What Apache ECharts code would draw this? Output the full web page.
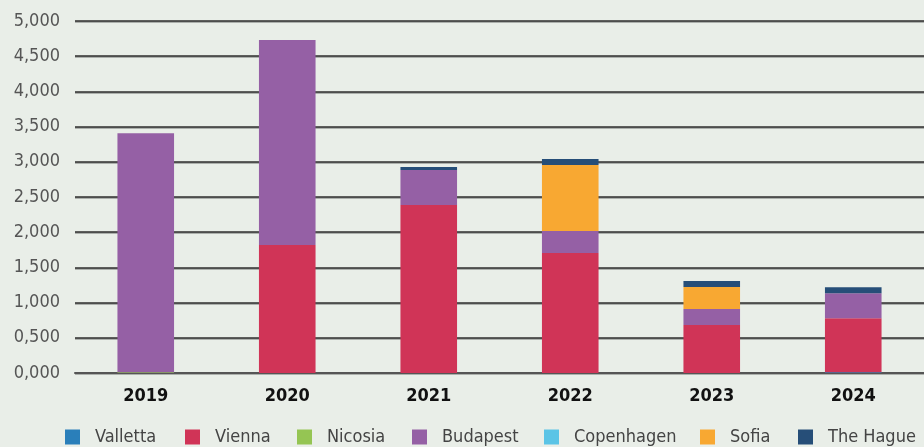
<!DOCTYPE html>
<html>
<head>
<meta charset="utf-8">
<script src="https://cdn.jsdelivr.net/npm/echarts@6/dist/echarts.min.js"></script>
<style>
  html, body { margin: 0; padding: 0; background: #e9eee8; }
  #chart { width: 924px; height: 447px; }
</style>
</head>
<body>
<div id="chart"></div>
<script>
// data
var years = ['2019', '2020', '2021', '2022', '2023', '2024'];
var cities = ['Valletta', 'Vienna', 'Nicosia', 'Budapest', 'Copenhagen', 'Sofia', 'The Hague'];
var valletta   = [0, 0, 0, 0, 0, 10];
var vienna     = [0, 1818, 2386, 1705, 682, 767];
var nicosia    = [10, 0, 0, 0, 0, 0];
var budapest   = [3395, 2912, 498, 312, 227, 355];
var copenhagen = [0, 0, 0, 0, 0, 0];
var sofia      = [0, 0, 0, 938, 313, 0];
var theHague   = [0, 0, 42, 85, 85, 85];

var colors = ['#2a7fba', '#d03457', '#95c553', '#9560a5', '#5bc4e6', '#f8a832', '#264e78'];
// x of each legend square
var legendLeft = [65, 185, 297, 412, 544, 700, 798];

var font = "'Liberation Sans Narrow', 'DejaVu Sans Condensed', 'Roboto', sans-serif";

function bar (i, data) {
  return {
    name: cities[i],
    type: 'bar',
    stack: 'total',
    barWidth: '40%',
    data: data,
    itemStyle: { color: colors[i] }
  };
}

var legends = cities.map(function (c, i) {
  return {
    data: [c],
    left: legendLeft[i],
    top: 428,
    padding: 0,
    itemWidth: 15,
    itemHeight: 15,
    icon: 'rect',
    textStyle: { fontFamily: font, fontSize: 18, color: '#444', padding: [0, 0, 0, 10] }
  };
});

var chart = echarts.init(document.getElementById('chart'));
chart.setOption({
  backgroundColor: '#e9eee8',
  animation: false,
  grid: { left: 75, right: 0, top: 21, bottom: 74 },
  legend: legends,
  xAxis: {
    type: 'category',
    data: years,
    axisTick: { show: false },
    axisLine: { lineStyle: { color: '#555', width: 2 } },
    axisLabel: { fontFamily: font, fontSize: 18, fontWeight: 'bold', color: '#111', margin: 14 }
  },
  yAxis: {
    type: 'value',
    min: 0,
    max: 5000,
    interval: 500,
    axisLabel: {
      fontFamily: font, fontSize: 18, color: '#555', margin: 15,
      formatter: function (v) { return (v / 1000).toFixed(3).replace('.', ','); }
    },
    splitLine: {
      lineStyle: { color: '#2e2e2e', width: 1.5, shadowColor: 'rgba(0,0,0,0.35)', shadowOffsetY: 1 }
    }
  },
  series: [
    bar(0, valletta),
    bar(1, vienna),
    bar(2, nicosia),
    bar(3, budapest),
    bar(4, copenhagen),
    bar(5, sofia),
    bar(6, theHague)
  ]
});
</script>
</body>
</html>
